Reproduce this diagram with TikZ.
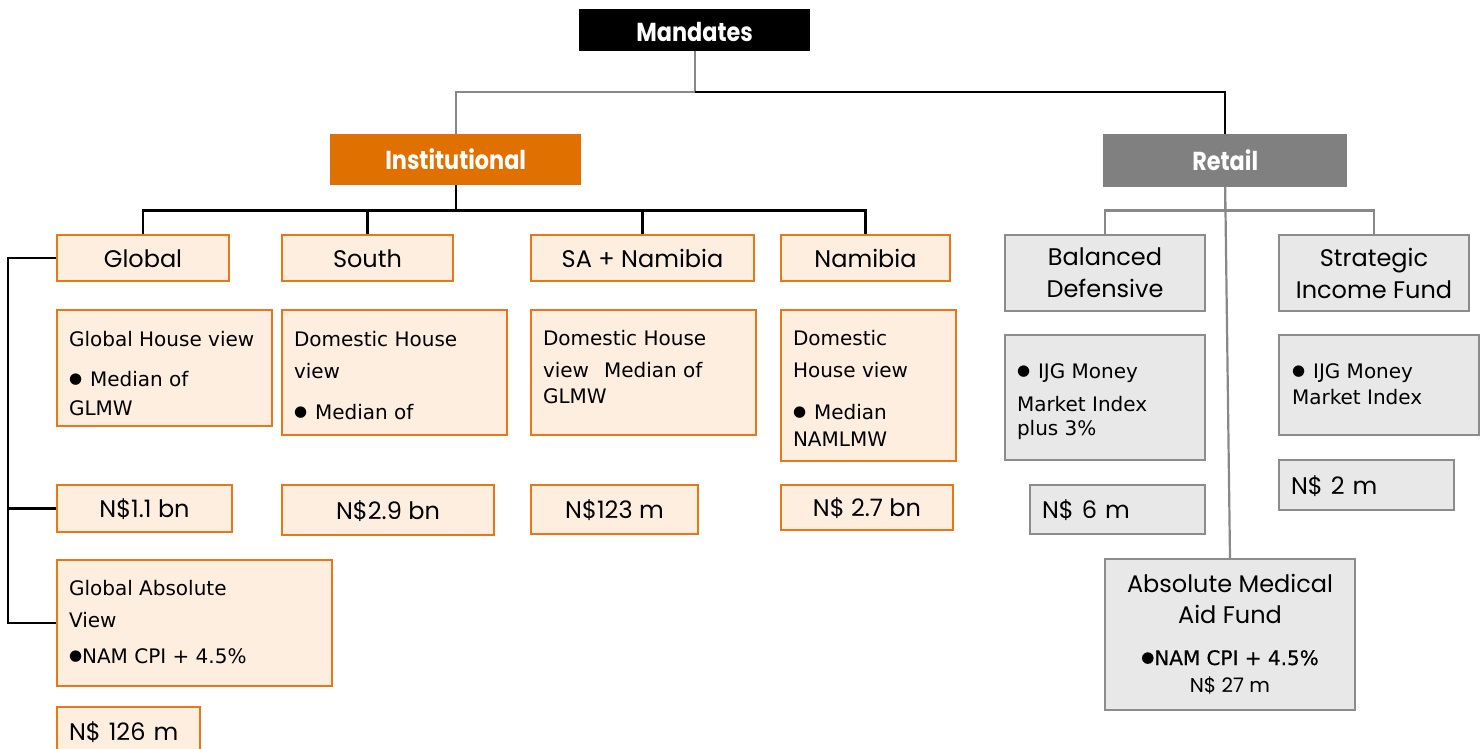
\documentclass[tikz,border=0pt]{standalone}
\usepackage{fontspec}
\setmainfont{DejaVu Sans}
\newfontfamily\gothic{Poppins}
\newfontfamily\headfont[FakeStretch=0.86]{Poppins}
\newfontfamily\cpifont[FakeBold=0.6]{DejaVu Sans}

\definecolor{orgline}{RGB}{232,119,26}
\definecolor{orgfill}{RGB}{253,238,224}
\definecolor{instfill}{RGB}{224,112,0}
\definecolor{gryline}{RGB}{140,140,140}
\definecolor{gryfill}{RGB}{232,232,232}
\definecolor{retfill}{RGB}{128,128,128}
\definecolor{conngray}{RGB}{136,136,136}

% bullet, first-line strut and a top-aligned text panel
\newcommand\bul{\raisebox{3pt}{\fontsize{15}{15}\selectfont ●}}
\newcommand\fl{\rule{0pt}{20pt}}
\newcommand\panel[4]{\parbox[c][#2][t]{#1}{\raggedright\leftskip=#3\relax #4}}

\tikzset{
  obox/.style={draw=orgline, fill=orgfill, line width=2pt, inner sep=0pt, anchor=north west},
  gbox/.style={draw=gryline, fill=gryfill, line width=2pt, inner sep=0pt, anchor=north west},
  lbl/.style={font=\gothic\fontsize{24}{32}\selectfont, text height=18pt, text depth=0pt},
  lbltwo/.style={font=\gothic\fontsize{24}{32}\selectfont, align=center},
  lblleft/.style={font=\gothic\fontsize{24}{32}\selectfont, text height=18pt, text depth=0pt, align=left, inner xsep=12pt},
  body/.style={font=\fontsize{20}{30}\selectfont},
  head/.style={anchor=north west, inner sep=0pt, text=white,
    font=\headfont\bfseries\fontsize{26}{30}\selectfont, text height=19pt, text depth=0pt},
  blackconn/.style={draw=black, line width=2.2pt},
  grayconn/.style={draw=conngray, line width=2.2pt},
}

\begin{document}
\begin{tikzpicture}[x=1pt,y=-1pt]
\useasboundingbox (0,0) rectangle (1484,749);

% top levels
\node[head, fill=black, minimum width=231pt, minimum height=42pt, text height=23pt] (mand) at (579,9) {Mandates};
\node[head, fill=instfill, minimum width=251pt, minimum height=51pt] (inst) at (330,134) {Institutional};
\node[head, fill=retfill, minimum width=244pt, minimum height=53pt] (retail) at (1103,134) {Retail};

% institutional mandates
\node[obox, lbl, minimum width=172pt, minimum height=46pt] (global) at (56,234) {Global};
\node[obox, lbl, minimum width=171pt, minimum height=46pt] (south) at (281,234) {South};
\node[obox, lbl, minimum width=223pt, minimum height=46pt] (sanam) at (530,234) {SA + Namibia};
\node[obox, lbl, minimum width=169pt, minimum height=46pt] (namibia) at (780,234) {Namibia};

\node[obox, body] (ghv) at (56,309)
  {\panel{215pt}{116pt}{12pt}{\vspace*{16pt}\fl Global House view\\[10pt]\bul\hspace{8pt}Median of\\[-1pt]GLMW}};
\node[obox, body] (sdhv) at (281,309)
  {\panel{225pt}{125pt}{12pt}{\vspace*{16pt}\fl Domestic House\\[2pt]view\\[11pt]\bul\hspace{8pt}Median of}};
\node[obox, body] (sadhv) at (530,309)
  {\panel{225pt}{125pt}{12pt}{\vspace*{15pt}\fl Domestic House\\[2pt]view\hspace{15pt}Median of\\[-4pt]GLMW}};
\node[obox, body] (ndhv) at (780,309)
  {\panel{175pt}{151pt}{12pt}{\vspace*{15pt}\fl Domestic\\[2pt]House view\\[12pt]\bul\hspace{8pt}Median\\[-3pt]NAMLMW}};

\node[obox, lbl, minimum width=175pt, minimum height=47pt] (nglob) at (56,484) {N\$1.1 bn};
\node[obox, lbl, minimum width=212pt, minimum height=50pt] (nsouth) at (281,484) {N\$2.9 bn};
\node[obox, lbl, minimum width=167pt, minimum height=49pt] (nsanam) at (530,484) {N\$123 m};
\node[obox, lbl, minimum width=172pt, minimum height=45pt] (nnam) at (780,484) {N\$ 2.7 bn};

\node[obox, body] (gav) at (56,559)
  {\panel{275pt}{126pt}{12pt}{\vspace*{15pt}\fl Global Absolute\\[2pt]View\\[6pt]\bul NAM CPI + 4.5\%}};
\node[obox, lblleft, text width=119pt, minimum height=48pt] (n126) at (56,706) {N\$ 126 m};

% retail mandates
\node[gbox, lbltwo, minimum width=200pt, minimum height=76pt] (balanced) at (1004,234) {Balanced\\Defensive};
\node[gbox, lbltwo, minimum width=190pt, minimum height=76pt] (strategic) at (1278,234) {Strategic\\Income Fund};

\node[gbox, body] (ijga) at (1004,334)
  {\panel{200pt}{125pt}{12pt}{\vspace*{23pt}\fl\bul\hspace{8pt}IJG Money\\[3pt]Market Index\\[-6pt]plus 3\%}};
\node[gbox, body] (ijgb) at (1278,334)
  {\panel{200pt}{100pt}{13pt}{\vspace*{23pt}\fl\bul\hspace{8pt}IJG Money\\[-4pt]Market Index}};

\node[gbox, lblleft, text width=151pt, minimum height=49pt] (nsix) at (1029,484) {N\$ 6 m};
\node[gbox, lblleft, text width=151pt, minimum height=50pt] (ntwo) at (1278,459) {N\$ 2 m};

\node[gbox, body] (absmed) at (1104,558)
  {\parbox[c][151pt][t]{250pt}{\centering\vspace*{9pt}%
   {\gothic\fontsize{24}{30}\selectfont\rule{0pt}{24pt}Absolute Medical\\[1pt]Aid Fund\\[12pt]}%
   {\cpifont\bul NAM CPI + 4.5\%\\[-3pt]}%
   {\gothic N\$ 27 m}}};

% connectors
\coordinate (mj) at ([yshift=-41pt]mand.south);
\draw[grayconn] (mand.south) -- (mj) -| (inst.north);
\draw[blackconn] (mj) -| (retail.north);

\coordinate (ij) at ([yshift=-25pt]inst.south);
\draw[blackconn] (inst.south) -- (ij);
\foreach \n in {global,south,sanam,namibia}
  \draw[blackconn] (ij) -| (\n.north);

\coordinate (rj) at ([yshift=-23pt]retail.south);
\draw[grayconn] (retail.south) -- (rj);
\draw[grayconn] (rj) -| (balanced.north);
\draw[grayconn] (rj) -| (strategic.north);
\draw[grayconn] (retail.south) -- (absmed.north);

\coordinate (lb) at ([xshift=-48pt]global.west);
\draw[blackconn] (global.west) -- (lb) |- (gav.west);
\draw[blackconn] (lb |- nglob.west) -- (nglob.west);
\end{tikzpicture}
\end{document}
